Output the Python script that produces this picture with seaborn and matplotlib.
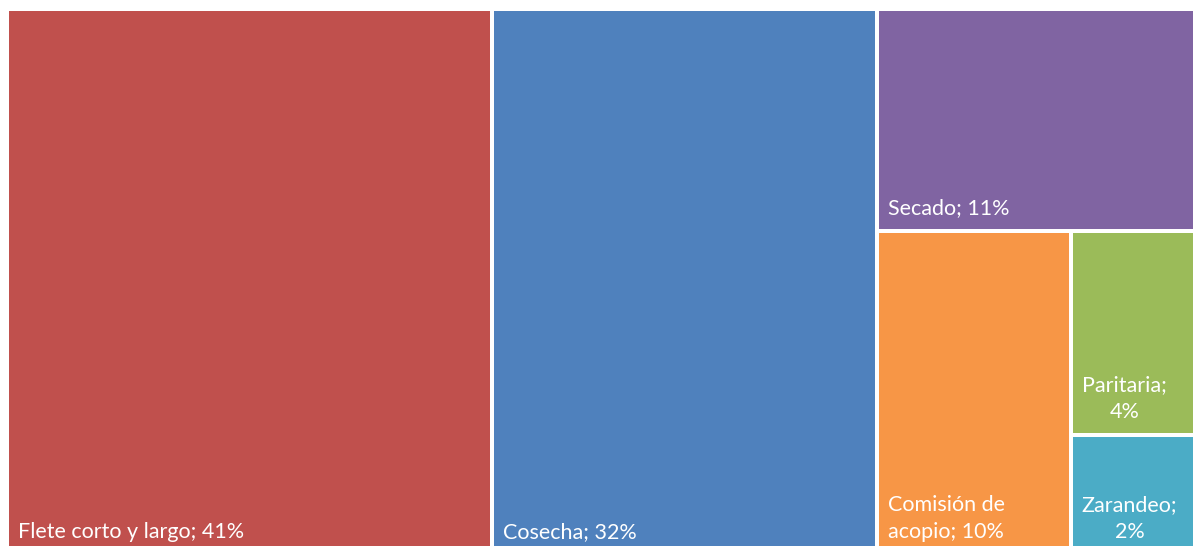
import textwrap
import matplotlib.pyplot as plt
import matplotlib.patches as mpatches
import seaborn as sns

# Cost share per item (percent)
categories = ["Flete corto y largo", "Cosecha", "Secado", "Comisión de acopio", "Paritaria", "Zarandeo"]
values = [40.8, 32.4, 10.9, 9.7, 3.9, 2.3]
colors = ["#C0504D", "#4F81BD", "#8064A2", "#F79646", "#9BBB59", "#4BACC6"]

# Excel prefers stacking in columns when the free area is close to square
COLUMN_BIAS = 0.9


def worst(row, length):
    s = sum(row)
    return max(max(length * length * r / (s * s), (s * s) / (length * length * r)) for r in row)


def as_column(w, h):
    return w >= COLUMN_BIAS * h


def layout_row(row, x, y, w, h):
    s = sum(row)
    rects = []
    if as_column(w, h):
        rw = s / h
        cy = y
        for r in row:
            rects.append((x, cy, rw, r / rw))
            cy += r / rw
        return rects, (x + rw, y, w - rw, h)
    rh = s / w
    cx = x
    for r in row:
        rects.append((cx, y, r / rh, rh))
        cx += r / rh
    return rects, (x, y + rh, w, h - rh)


def squarify(vals, x, y, w, h):
    total = sum(vals)
    areas = [v * w * h / total for v in vals]
    out = []
    rect = (x, y, w, h)
    row = []
    i = 0
    while i < len(areas):
        side = rect[3] if as_column(rect[2], rect[3]) else rect[2]
        a = areas[i]
        if not row or worst(row + [a], side) <= worst(row, side):
            row.append(a)
            i += 1
        else:
            r, rect = layout_row(row, *rect)
            out += r
            row = []
    if row:
        r, rect = layout_row(row, *rect)
        out += r
    return out


sns.set_theme(style="white")
plt.rcParams["font.family"] = ["Lato", "DejaVu Sans"]

W, H = 1193, 546
fig = plt.figure(figsize=(W / 100, H / 100), dpi=100)
ax = fig.add_axes([0, 0, 1, 1])
ax.set_xlim(0, W)
ax.set_ylim(H, 0)
ax.axis("off")

gap = 2
rects = squarify(values, 7, 9, 1188, 546)
for (x, y, w, h), name, v, c in zip(rects, categories, values, colors):
    ax.add_patch(mpatches.Rectangle((x + gap, y + gap), w - 2 * gap, h - 2 * gap,
                                    facecolor=c, edgecolor="none"))
    label = f"{name}; {round(v)}%"
    label = "\n".join(textwrap.wrap(label, width=max(int((w - 16) / 9.5), 6)))
    ax.text(x + gap + 9, y + h - gap - 11, label, color="white", fontsize=15.5,
            ha="left", va="bottom", multialignment="center", linespacing=1.42)

fig.savefig("out.png", dpi=100)
